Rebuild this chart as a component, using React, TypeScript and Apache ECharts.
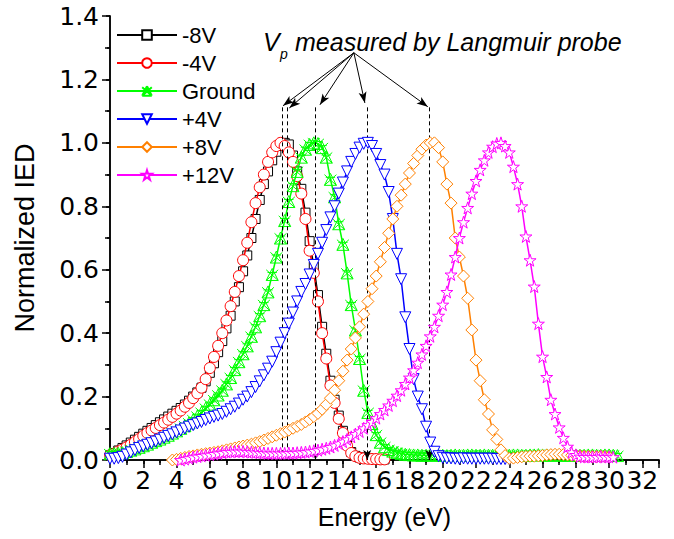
import React, { useEffect, useRef } from "react";
import * as echarts from "echarts";

// ---------- data (Energy grid: start + i*STEP eV) ----------
const STEP = 0.25;
const seriesNames = ["-8V", "-4V", "Ground", "+4V", "+8V", "+12V"];
const seriesStarts = [0, 0, 0, 0, 3.75, 4.25];

const neg8V = [
  0.015, 0.022, 0.03, 0.038, 0.046, 0.055, 0.064, 0.073, 0.083, 0.092,
  0.101, 0.11, 0.119, 0.128, 0.137, 0.146, 0.155, 0.164, 0.175, 0.187,
  0.2, 0.213, 0.228, 0.248, 0.275, 0.305, 0.34, 0.375, 0.415, 0.455,
  0.5, 0.545, 0.595, 0.645, 0.7, 0.76, 0.82, 0.87, 0.91, 0.945,
  0.972, 0.99, 1.0, 0.995, 0.96, 0.91, 0.855, 0.78, 0.69, 0.61,
  0.52, 0.42, 0.335, 0.25, 0.19, 0.14, 0.092, 0.05, 0.025, 0.013,
  0.008, 0.005, 0.004, 0.003, 0.003, 0.002, 0.002,
];
const neg4V = [
  0.015, 0.02, 0.027, 0.033, 0.04, 0.048, 0.057, 0.066, 0.076, 0.085,
  0.093, 0.101, 0.11, 0.118, 0.127, 0.136, 0.146, 0.156, 0.168, 0.18,
  0.195, 0.21, 0.228, 0.255, 0.29, 0.325, 0.36, 0.4, 0.44, 0.485,
  0.53, 0.58, 0.63, 0.685, 0.75, 0.81, 0.86, 0.9, 0.94, 0.97,
  0.99, 1.0, 0.99, 0.97, 0.94, 0.895, 0.84, 0.76, 0.66, 0.59,
  0.5, 0.4, 0.32, 0.235, 0.18, 0.13, 0.085, 0.045, 0.022, 0.012,
  0.007, 0.005, 0.004, 0.003, 0.003, 0.002, 0.002,
];
const ground = [
  0.02, 0.02, 0.021, 0.023, 0.027, 0.031, 0.035, 0.04, 0.045, 0.05,
  0.056, 0.061, 0.066, 0.072, 0.078, 0.085, 0.092, 0.1, 0.108, 0.117,
  0.127, 0.138, 0.15, 0.163, 0.176, 0.19, 0.205, 0.22, 0.24, 0.26,
  0.285, 0.31, 0.335, 0.36, 0.39, 0.42, 0.455, 0.49, 0.53, 0.585,
  0.64, 0.7, 0.755, 0.815, 0.865, 0.91, 0.955, 0.98, 0.995, 1.0,
  0.998, 0.985, 0.955, 0.885, 0.83, 0.745, 0.68, 0.59, 0.49, 0.41,
  0.32, 0.22, 0.15, 0.115, 0.08, 0.056, 0.042, 0.033, 0.028, 0.024,
  0.02, 0.018, 0.017, 0.016, 0.016, 0.015, 0.015, 0.016, 0.016, 0.015,
  0.015, 0.014, 0.015, 0.016, 0.015, 0.015, 0.016, 0.016, 0.015, 0.015,
  0.016, 0.015, 0.015, 0.016, 0.016, 0.015, 0.015, 0.016, 0.016, 0.015,
  0.015, 0.016, 0.016, 0.017, 0.016, 0.016, 0.015, 0.016, 0.016, 0.015,
  0.015, 0.016, 0.016, 0.015, 0.015, 0.016, 0.016, 0.015, 0.015, 0.016,
  0.016, 0.015, 0.014,
];
const pos4V = [
  0.004, 0.004, 0.006, 0.01, 0.017, 0.024, 0.031, 0.038, 0.043, 0.048,
  0.053, 0.058, 0.064, 0.07, 0.076, 0.081, 0.087, 0.093, 0.099, 0.105,
  0.11, 0.115, 0.12, 0.126, 0.131, 0.136, 0.14, 0.145, 0.152, 0.16,
  0.168, 0.178, 0.19, 0.2, 0.214, 0.23, 0.248, 0.267, 0.288, 0.31,
  0.34, 0.37, 0.4, 0.43, 0.465, 0.5, 0.53, 0.555, 0.585, 0.615,
  0.65, 0.685, 0.725, 0.765, 0.8, 0.84, 0.875, 0.91, 0.94, 0.965,
  0.985, 0.997, 1.0, 0.99, 0.965, 0.93, 0.9, 0.845, 0.76, 0.65,
  0.57, 0.45, 0.35, 0.255, 0.2, 0.16, 0.105, 0.055, 0.026, 0.012,
  0.007, 0.005, 0.005, 0.004, 0.004, 0.005, 0.004, 0.004, 0.004, 0.004,
  0.004, 0.004, 0.004, 0.003, 0.003, 0.003, 0.003,
];
const pos8V = [
  0.0, 0.002, 0.005, 0.008, 0.011, 0.013, 0.016, 0.018, 0.02, 0.022,
  0.024, 0.026, 0.029, 0.032, 0.035, 0.038, 0.041, 0.044, 0.047, 0.05,
  0.054, 0.058, 0.063, 0.068, 0.073, 0.078, 0.083, 0.088, 0.094, 0.1,
  0.106, 0.112, 0.12, 0.128, 0.137, 0.147, 0.16, 0.175, 0.195, 0.22,
  0.25, 0.28, 0.315, 0.35, 0.385, 0.42, 0.46, 0.5, 0.54, 0.58,
  0.625, 0.67, 0.715, 0.76, 0.8, 0.835, 0.87, 0.905, 0.935, 0.96,
  0.98, 0.993, 1.0, 1.0, 0.985, 0.94, 0.87, 0.81, 0.7, 0.64,
  0.58, 0.51, 0.41, 0.315, 0.25, 0.19, 0.145, 0.095, 0.065, 0.032,
  0.014, 0.005, 0.006, 0.008, 0.01, 0.011, 0.012, 0.012, 0.013, 0.014,
  0.016, 0.017, 0.018, 0.018, 0.017, 0.016, 0.015, 0.014, 0.013, 0.012,
  0.012, 0.011, 0.011, 0.012, 0.011, 0.01,
];
const pos12V = [
  0.0, 0.003, 0.006, 0.009, 0.011, 0.013, 0.015, 0.017, 0.019, 0.021,
  0.023, 0.025, 0.026, 0.027, 0.027, 0.027, 0.026, 0.025, 0.024, 0.023,
  0.022, 0.021, 0.021, 0.021, 0.021, 0.021, 0.022, 0.022, 0.023, 0.024,
  0.025, 0.027, 0.029, 0.031, 0.034, 0.037, 0.041, 0.046, 0.052, 0.058,
  0.065, 0.073, 0.082, 0.09, 0.1, 0.11, 0.12, 0.132, 0.145, 0.158,
  0.172, 0.187, 0.203, 0.22, 0.24, 0.26, 0.283, 0.307, 0.333, 0.36,
  0.39, 0.42, 0.455, 0.49, 0.53, 0.585, 0.64, 0.7, 0.75, 0.795,
  0.84, 0.88, 0.915, 0.945, 0.97, 0.988, 0.998, 1.0, 0.99, 0.97,
  0.925, 0.87, 0.8, 0.705, 0.63, 0.547, 0.43, 0.326, 0.262, 0.19,
  0.145, 0.103, 0.07, 0.042, 0.024, 0.016, 0.011, 0.01, 0.01, 0.01,
  0.01, 0.011, 0.01, 0.01, 0.009,
];
const seriesValues = [neg8V, neg4V, ground, pos4V, pos8V, pos12V];

// Plasma potentials (Langmuir probe) and annotation anchor
const vpEnergies = [10.36, 10.67, 12.35, 15.46, 19.2];
const vpArrowEnds = [10.4, 10.78, 12.62, 15.32, 19.1];
const vpArrowEndY = [1.117, 1.11, 1.12, 1.126, 1.114];
const vpLineTop = 1.112;
const vpOrigin = [14.66, 1.284];

// x/y axis ticks
const xMin = 0, xMax = 33, xInterval = 2;
const yMin = 0, yMax = 1.4, yInterval = 0.2;

// ---------- styles ----------
const COLORS = ["#000000", "#FF0000", "#00FF00", "#0000FF", "#FF8000", "#FF00FF"];
const STAR =
  "path://M50,2 L61.2,36.5 L97.6,36.5 L68.2,57.9 L79.4,92.4 L50,71.1 L20.6,92.4 L31.8,57.9 L2.4,36.5 L38.8,36.5 Z";
const ASTER = "path://M1,2 L19,18 M19,2 L1,18 M10,0 L1,18 M10,0 L19,18 M1,18 L19,18 M3,6 L17,6";
const SYMBOLS = ["rect", "circle", ASTER, "triangle", "diamond", STAR];
const SIZES = [9, 11, 12, 11, 12, 12];
const ROTATES = [0, 0, 0, 180, 0, 0];

const TICK_FONT = "DejaVu Sans";
const TEXT_FONT = "Liberation Sans";

function buildOption() {
  const series: any[] = seriesNames.map((name, k) => ({
    name,
    type: "line",
    xAxisIndex: 0,
    yAxisIndex: 0,
    data: seriesValues[k].map((v, i) => [seriesStarts[k] + i * STEP, v]),
    symbol: SYMBOLS[k],
    symbolSize: SIZES[k],
    symbolRotate: ROTATES[k],
    showAllSymbol: true,
    clip: false,
    lineStyle: { color: COLORS[k], width: 1.5 },
    itemStyle: {
      color: k === 2 ? "none" : "#ffffff",
      borderColor: COLORS[k],
      borderWidth: 1,
    },
    emphasis: { disabled: true },
    z: 2 + k,
  }));

  const mlData: any[] = [];
  vpArrowEnds.forEach((x, i) => {
    mlData.push([
      { coord: vpOrigin, symbol: "none", lineStyle: { type: "solid", color: "#000", width: 1 } },
      { coord: [x, vpArrowEndY[i]], symbol: "arrow", symbolSize: [6, 11] },
    ]);
  });
  vpEnergies.forEach((x) => {
    mlData.push([
      { coord: [x, vpLineTop], symbol: "none", lineStyle: { type: [4, 3], color: "#000", width: 1 } },
      { coord: [x, 0], symbol: "arrow", symbolSize: [6, 10] },
    ]);
  });
  series.push({
    name: "vp",
    type: "line",
    data: [],
    xAxisIndex: 0,
    yAxisIndex: 0,
    z: 20,
    markLine: {
      silent: true,
      animation: false,
      label: { show: false },
      emphasis: { disabled: true },
      data: mlData,
    },
  });

  const baseAxisLine = { show: true, lineStyle: { color: "#000", width: 1.5 } };

  return {
    animation: false,
    backgroundColor: "#ffffff",
    grid: { left: 110, right: 15, top: 16, bottom: 79, containLabel: false },
    legend: {
      data: seriesNames,
      orient: "vertical",
      left: 116,
      top: 24,
      padding: 0,
      itemWidth: 60,
      itemHeight: 12,
      itemGap: 6,
      selectedMode: false,
      textStyle: { fontSize: 22, fontFamily: TEXT_FONT, color: "#000" },
      lineStyle: { width: 2 },
    },
    xAxis: [
      {
        type: "value",
        min: xMin,
        max: xMax,
        interval: xInterval,
        position: "bottom",
        axisLine: baseAxisLine,
        axisTick: { show: true, inside: false, length: 8, lineStyle: { color: "#000", width: 1.5 } },
        minorTick: { show: true, splitNumber: 2, length: 5, lineStyle: { color: "#000", width: 1.5 } },
        splitLine: { show: false },
        axisLabel: {
          fontSize: 25,
          fontFamily: TICK_FONT,
          color: "#000",
          margin: 8,
          showMaxLabel: false,
        },
        name: "Energy (eV)",
        nameLocation: "middle",
        nameGap: 44,
        nameTextStyle: { fontSize: 25, fontFamily: TEXT_FONT, color: "#000" },
      },
      {
        type: "value",
        min: xMin,
        max: xMax,
        interval: xInterval,
        position: "top",
        axisLine: baseAxisLine,
        axisTick: { show: true, inside: true, length: 4, lineStyle: { color: "#000", width: 1.5 } },
        minorTick: { show: true, splitNumber: 2, length: 3, lineStyle: { color: "#000", width: 1.5 } },
        splitLine: { show: false },
        axisLabel: { show: false },
      },
    ],
    yAxis: [
      {
        type: "value",
        min: yMin,
        max: yMax,
        interval: yInterval,
        position: "left",
        axisLine: baseAxisLine,
        axisTick: { show: true, inside: false, length: 8, lineStyle: { color: "#000", width: 1.5 } },
        minorTick: { show: true, splitNumber: 2, length: 5, lineStyle: { color: "#000", width: 1.5 } },
        splitLine: { show: false },
        axisLabel: {
          fontSize: 25,
          fontFamily: TICK_FONT,
          color: "#000",
          margin: 11,
          formatter: (v: number) => v.toFixed(1),
        },
        name: "Normalized IED",
        nameLocation: "middle",
        nameRotate: 90,
        nameGap: 72,
        nameTextStyle: { fontSize: 27, fontFamily: TEXT_FONT, color: "#000" },
      },
      {
        type: "value",
        min: yMin,
        max: yMax,
        interval: yInterval,
        position: "right",
        axisLine: baseAxisLine,
        axisTick: { show: true, inside: true, length: 4, lineStyle: { color: "#000", width: 1.5 } },
        minorTick: { show: true, splitNumber: 2, length: 3, lineStyle: { color: "#000", width: 1.5 } },
        splitLine: { show: false },
        axisLabel: { show: false },
      },
    ],
    graphic: [
      {
        type: "text",
        x: 263,
        y: 42,
        style: {
          text: "V",
          font: `italic 25px "${TEXT_FONT}"`,
          fill: "#000",
          verticalAlign: "middle",
        },
        z: 30,
      },
      {
        type: "text",
        x: 280,
        y: 54,
        style: {
          text: "p",
          font: `italic 14px "${TEXT_FONT}"`,
          fill: "#000",
          verticalAlign: "middle",
        },
        z: 30,
      },
      {
        type: "text",
        x: 295,
        y: 42,
        style: {
          text: "measured by Langmuir probe",
          font: `italic 25px "${TEXT_FONT}"`,
          fill: "#000",
          verticalAlign: "middle",
        },
        z: 30,
      },
    ],
    series,
  };
}

export default function App() {
  const ref = useRef<HTMLDivElement>(null);
  useEffect(() => {
    document.body.style.margin = "0";
    const chart = echarts.init(ref.current as HTMLDivElement, null, { renderer: "svg" });
    chart.setOption(buildOption() as any);
    return () => chart.dispose();
  }, []);
  return <div ref={ref} style={{ width: 674, height: 539 }} />;
}
